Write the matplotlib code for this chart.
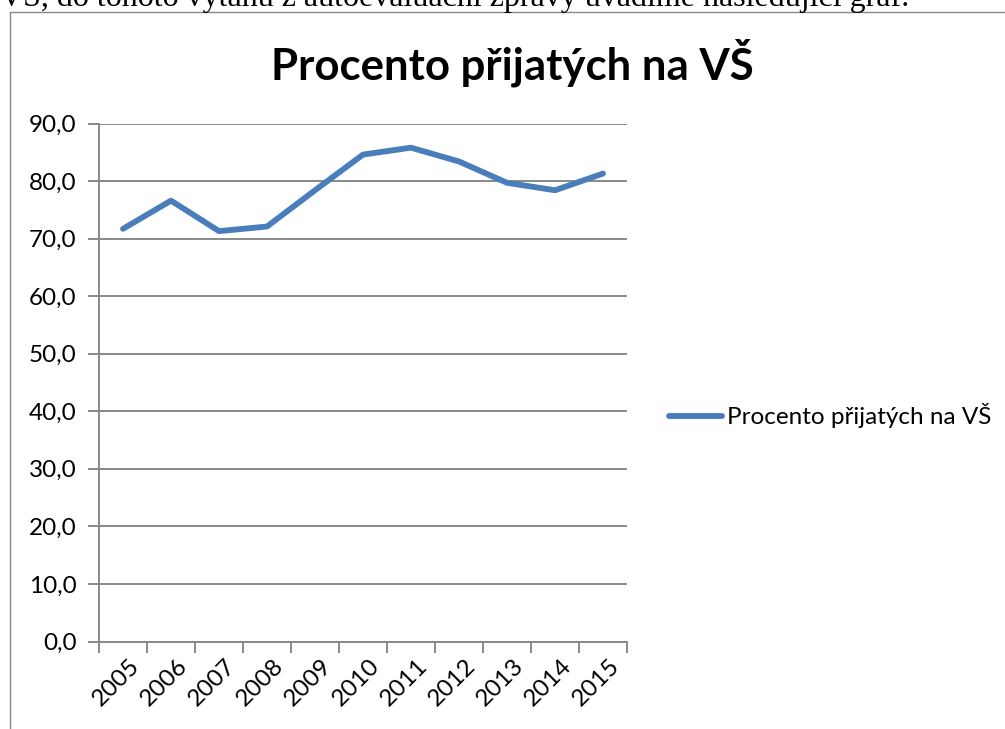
import matplotlib
matplotlib.use('Agg')
import matplotlib.pyplot as plt
from matplotlib.patches import Rectangle
from matplotlib.transforms import ScaledTranslation

years = ['2005', '2006', '2007', '2008', '2009', '2010',
         '2011', '2012', '2013', '2014', '2015']
procento = [71.7, 76.6, 71.3, 72.1, 78.4, 84.6, 85.8, 83.4, 79.7, 78.4, 81.3]
y_ticks = [0, 10, 20, 30, 40, 50, 60, 70, 80, 90]

TITLE = 'Procento přijatých na VŠ'
HEADER = 'VŠ, do tohoto výtahu z autoevaluační zprávy uvádíme následující graf.'

BLUE = '#4A7EBB'
GRAY = '#898989'
FONT = ['Lato', 'DejaVu Sans']

W, H = 1005, 729
fig = plt.figure(figsize=(W / 100, H / 100), dpi=100)

# text of the document above the chart, cut off by the top edge
fig.text(0.0, 1 - 6 / H, HEADER, family=['Liberation Serif'], fontsize=23,
         ha='left', va='baseline')

# chart frame
fig.patches.append(Rectangle((10 / W, 0 - 0.1), 1.2, 1 - 12 / H + 0.1,
                             transform=fig.transFigure, fill=False,
                             edgecolor=GRAY, linewidth=1))

ax = fig.add_axes([99 / W, (H - 641.5) / H, 528 / W, 518 / H])
x = list(range(len(years)))
ax.plot(x, procento, color=BLUE, linewidth=4.2, solid_capstyle='round',
        solid_joinstyle='round', label=TITLE)

ax.set_xlim(-0.5, len(years) - 0.5)
ax.set_ylim(0, 90)
ax.set_yticks(y_ticks)
ax.set_yticklabels([('%.1f' % v).replace('.', ',') for v in y_ticks])
ax.yaxis.grid(True, color=GRAY, linewidth=1.4)
ax.set_axisbelow(True)

ax.set_xticks([i - 0.5 for i in range(len(years) + 1)])
ax.set_xticklabels([])
ax.set_xticks(x, minor=True)
ax.set_xticklabels(years, minor=True, rotation=45, ha='right', va='top',
                   rotation_mode='anchor', family=FONT, fontsize=17.5)
ax.tick_params(axis='x', which='minor', length=0, pad=10)
ax.tick_params(axis='x', which='major', length=8, width=1.4, color=GRAY)
ax.tick_params(axis='y', length=8, width=1.4, color=GRAY, pad=8)
for lab in ax.get_yticklabels():
    lab.set_family(FONT)
    lab.set_fontsize(17.5)

# nudge the rotated year labels a little to the right
shift = ScaledTranslation(6 / 100, 0, fig.dpi_scale_trans)
for lab in ax.get_xticklabels(minor=True):
    lab.set_transform(lab.get_transform() + shift)

for side in ['top', 'right']:
    ax.spines[side].set_visible(False)
for side in ['left', 'bottom']:
    ax.spines[side].set_color(GRAY)
    ax.spines[side].set_linewidth(1.4)

fig.text(512 / W, 1 - 63 / H, TITLE, family=FONT, fontweight='bold',
         fontsize=31.5, ha='center', va='center')

leg = fig.legend(loc='center left', bbox_to_anchor=(659 / W, 1 - 416 / H),
                 frameon=False, prop={'family': FONT, 'size': 17.5},
                 handlelength=2.2, handletextpad=0.2, borderaxespad=0)

fig.savefig('out.png', dpi=100)
